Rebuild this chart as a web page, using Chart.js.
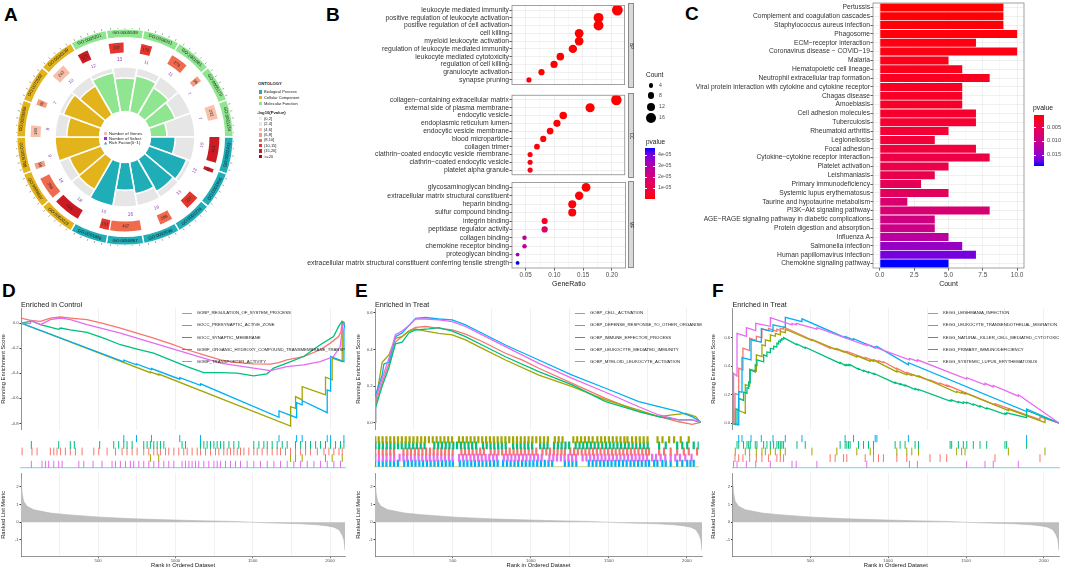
<!DOCTYPE html>
<html><head><meta charset="utf-8">
<script src="https://cdn.jsdelivr.net/npm/chart.js@4.4.1/dist/chart.umd.min.js"></script>
<style>
body{margin:0;width:1065px;height:569px;position:relative;background:#fff;font-family:"Liberation Sans",Arial,Helvetica,sans-serif;overflow:hidden}
canvas{position:absolute}
.t{position:absolute;white-space:nowrap;line-height:1}
.clip{position:absolute;overflow:hidden}
</style></head><body>
<script>
// ---------------- DATA ----------------
// Panel A (GO circle), clockwise from 12 o'clock sector -20deg
const GO_IDS=['GO:0005201','GO:0005539','GO:0008201','GO:1901681','GO:0005178','GO:0061134','GO:0002443','GO:0001906','GO:0002274','GO:0002696','GO:0050867','GO:0001909','GO:0062023','GO:0009897','GO:0005788','GO:0030666','GO:0072562','GO:0030139'];
const GO_ONT=['MF','MF','MF','MF','MF','MF','BP','BP','BP','BP','BP','BP','CC','CC','CC','CC','CC','CC'];
const GO_GENES=[171,237,175,278,96,232,413,60,227,208,497,151,439,358,96,184,96,243];
const GO_SELECT=[12,13,11,11,7,7,19,13,13,16,16,10,18,14,9,8,7,10];
const GO_RICH=[0.89,0.75,0.82,0.70,0.62,0.36,0.55,0.90,0.84,0.72,0.62,1.0,0.79,0.76,1.0,0.73,0.90,0.75];
const GO_LOGP=[17,12,13,9,7,5,17,16,12,9,9,11,18,9,7,5,7,5];
const GENE_SPAN=520;
const P_BIN_LABELS=['(0,2]','(2,4]','(4,6]','(6,8]','(8,10]','(10,15]','(15,20]','>=20'];
const P_BIN_EDGES=[2,4,6,8,10,15,20];

// Panel B (GO dot plot)
const BP_TERMS=['leukocyte mediated immunity','positive regulation of leukocyte activation','positive regulation of cell activation','cell killing','myeloid leukocyte activation','regulation of leukocyte mediated immunity','leukocyte mediated cytotoxicity','regulation of cell killing','granulocyte activation','synapse pruning'];
const BP_RATIO=[0.211,0.178,0.178,0.144,0.144,0.133,0.111,0.100,0.078,0.056];
const BP_COUNT=[19,16,16,13,13,12,10,9,7,5];
const BP_P=[1e-10,2e-09,3e-09,5e-09,6e-09,1e-08,3e-08,5e-08,2e-07,8e-07];
const CC_TERMS=['collagen\u2212containing extracellular matrix','external side of plasma membrane','endocytic vesicle','endoplasmic reticulum lumen','endocytic vesicle membrane','blood microparticle','collagen trimer','clathrin\u2212coated endocytic vesicle membrane','clathrin\u2212coated endocytic vesicle','platelet alpha granule'];
const CC_RATIO=[0.209,0.163,0.116,0.105,0.093,0.081,0.070,0.058,0.058,0.058];
const CC_COUNT=[18,14,10,9,8,7,6,5,5,5];
const CC_P=[5e-10,2e-08,1e-07,3e-07,4e-07,6e-07,9e-07,1.2e-06,1.5e-06,1.8e-06];
const MF_TERMS=['glycosaminoglycan binding','extracellular matrix structural constituent','heparin binding','sulfur compound binding','integrin binding','peptidase regulator activity','collagen binding','chemokine receptor binding','proteoglycan binding','extracellular matrix structural constituent conferring tensile strength'];
const MF_RATIO=[0.155,0.143,0.131,0.131,0.083,0.083,0.048,0.048,0.036,0.036];
const MF_COUNT=[13,12,11,11,7,7,4,4,3,3];
const MF_P=[2e-07,5e-07,8e-07,1e-06,4e-06,1.6e-05,2.7e-05,2.6e-05,3.4e-05,4.68e-05];
const B_XTICKS=[0.05,0.10,0.15,0.20];
const B_XMINOR=[0.075,0.125,0.175];
const COUNT_LEGEND=[4,8,12,16];
const B_PTICKS=[4e-05,3e-05,2e-05,1e-05];

// Panel C (KEGG bar)
const KEGG_TERMS=['Pertussis','Complement and coagulation cascades','Staphylococcus aureus infection','Phagosome','ECM\u2212receptor interaction','Coronavirus disease \u2212 COVID\u221219','Malaria','Hematopoietic cell lineage','Neutrophil extracellular trap formation','Viral protein interaction with cytokine and cytokine receptor','Chagas disease','Amoebiasis','Cell adhesion molecules','Tuberculosis','Rheumatoid arthritis','Legionellosis','Focal adhesion','Cytokine\u2212cytokine receptor interaction','Platelet activation','Leishmaniasis','Primary immunodeficiency','Systemic lupus erythematosus','Taurine and hypotaurine metabolism','PI3K\u2212Akt signaling pathway','AGE\u2212RAGE signaling pathway in diabetic complications','Protein digestion and absorption','Influenza A','Salmonella infection','Human papillomavirus infection','Chemokine signaling pathway'];
const KEGG_COUNT=[9,9,9,10,7,10,5,6,8,6,6,6,7,7,5,4,7,8,5,4,3,5,2,8,4,4,5,6,7,5];
const KEGG_P=[0.00036,0.0005,0.0006,0.0007,0.0009,0.001,0.0012,0.0014,0.0016,0.0018,0.002,0.0021,0.0025,0.0027,0.003,0.0033,0.0035,0.004,0.0045,0.0048,0.0055,0.006,0.0075,0.0078,0.009,0.0095,0.0115,0.0145,0.0165,0.019];
const C_XTICKS=[0,2.5,5,7.5,10];
const C_XMINOR=[1.25,3.75,6.25,8.75];
const C_PTICKS=[0.005,0.010,0.015];

// GSEA shared
const GRID_RANKS=[250,500,750,1000,1250,1500,1750,2000];
const METRIC_RANK=[1,8,18,40,83,191,299,515,730,946,1162,1378,1486,1594,1810,1918,1982,2025,2058,2079,2090,2097];
const METRIC_VAL=[2.45,1.64,1.17,0.89,0.70,0.51,0.42,0.28,0.19,0.13,0.08,0.04,0.0,-0.04,-0.09,-0.15,-0.21,-0.28,-0.43,-0.72,-1.0,-1.6];
const SET_COLORS=['#F8766D','#A3A500','#00BF7D','#00B0F6','#E76BF3'];

// Panel D
const D_SETS=['GOBP_REGULATION_OF_SYSTEM_PROCESS','GOCC_PRESYNAPTIC_ACTIVE_ZONE','GOCC_SYNAPTIC_MEMBRANE','GOMF_ORGANIC_HYDROXY_COMPOUND_TRANSMEMBRANE_TRANSPORTER_ACTIVITY','GOMF_TRANSPORTER_ACTIVITY'];
const D_ES_TICKS=[-0.8,-0.6,-0.4,-0.2,0.0];
const D_RED=[[1,0.04],[62,0.021],[127,0.013],[191,0.04],[256,0.048],[321,0.04],[428,0.027],[536,-0.005],[644,-0.04],[752,-0.08],[859,-0.12],[967,-0.165],[1075,-0.213],[1183,-0.253],[1291,-0.293],[1398,-0.315],[1506,-0.325],[1614,-0.328],[1668,-0.315],[1721,-0.293],[1829,-0.267],[1937,-0.213],[2002,-0.16],[2056,-0.107],[2071,-0.067],[2079,0],[2088,-0.013],[2097,0]];
const D_OLIVE=[[1,0],[838,-0.396],[838,-0.389],[892,-0.414],[892,-0.407],[1745,-0.821],[1745,-0.667],[1777,-0.68],[1777,-0.587],[1820,-0.613],[1820,-0.507],[1971,-0.573],[1971,-0.432],[2014,-0.453],[2014,-0.28],[2079,-0.307],[2079,0.013],[2097,0]];
const D_GREEN=[[1,0],[62,0.013],[68,0.018],[127,-0.013],[213,-0.04],[245,-0.05],[256,-0.04],[320,-0.055],[428,-0.075],[536,-0.12],[644,-0.173],[752,-0.208],[859,-0.24],[967,-0.293],[1075,-0.347],[1183,-0.395],[1291,-0.395],[1398,-0.4],[1506,-0.421],[1592,-0.405],[1635,-0.36],[1721,-0.32],[1829,-0.267],[1937,-0.173],[2023,-0.107],[2056,-0.027],[2077,0.013],[2088,0],[2097,0]];
const D_BLUE=[[1,0],[666,-0.309],[666,-0.296],[748,-0.334],[748,-0.326],[845,-0.371],[845,-0.363],[1028,-0.448],[1028,-0.435],[1162,-0.497],[1162,-0.485],[1670,-0.752],[1670,-0.701],[1784,-0.755],[1784,-0.635],[1820,-0.652],[1820,-0.62],[1982,-0.715],[1982,-0.533],[2004,-0.543],[2004,-0.267],[2090,-0.307],[2090,-0.05],[2097,0]];
const D_PINK=[[1,0],[62,-0.005],[68,0.021],[127,-0.013],[191,0.027],[256,0.04],[321,0.027],[428,-0.013],[644,-0.08],[859,-0.16],[1075,-0.24],[1291,-0.32],[1506,-0.36],[1614,-0.379],[1721,-0.347],[1829,-0.333],[1937,-0.307],[2023,-0.267],[2066,-0.187],[2083,-0.013],[2097,0]];
const D_HIT_RED=[8,72,105,191,213,234,256,288,320,353,396,472,504,558,612,655,687,720,752,795,828,860,882,903,936,957,990,1022,1054,1076,1108,1141,1162,1195,1227,1259,1281,1313,1335,1356,1378,1400,1421,1443,1475,1507,1529,1561,1594,1626,1658,1680,1712,1745,1777,1810,1842,1874,1918,1961,1993,2025,2058,2079];
const D_HIT_OLIVE=[838,892,1745,1777,1820,1971,2014,2079];
const D_HIT_GREEN=[68,245,320,346,510,601,633,666,687,720,795,817,838,860,882,903,925,1043,1065,1162,1184,1205,1227,1249,1270,1292,1313,1346,1378,1410,1507,1540,1572,1594,1626,1658,1691,1723,1777,1810,1842,1874,1907,1939,1971,2004,2036,2068,2090];
const D_HIT_BLUE=[666,748,845,1028,1162,1670,1784,1820,1982,2004,2090];
const D_HIT_PINK=[68,137,159,180,213,245,267,375,407,467,525,590,612,644,677,709,730,763,795,828,860,892,925,957,990,1043,1065,1087,1108,1130,1151,1184,1216,1249,1270,1292,1324,1356,1389,1421,1464,1507,1550,1594,1637,1680,1723,1766,1810,1853,1896,1939,1982,2025,2068];

// Panel E
const E_SETS=['GOBP_CELL_ACTIVATION','GOBP_DEFENSE_RESPONSE_TO_OTHER_ORGANISM','GOBP_IMMUNE_EFFECTOR_PROCESS','GOBP_LEUKOCYTE_MEDIATED_IMMUNITY','GOBP_MYELOID_LEUKOCYTE_ACTIVATION'];
const E_ES_TICKS=[0.0,0.2,0.4,0.6];
const E_RED=[[1,0],[4,0.1],[47,0.22],[90,0.32],[132,0.44],[175,0.47],[218,0.5],[261,0.52],[325,0.525],[410,0.515],[496,0.506],[581,0.483],[688,0.443],[837,0.379],[950,0.34],[1051,0.297],[1265,0.215],[1479,0.133],[1692,0.06],[1820,0.033],[1949,0.005],[2034,-0.009],[2088,0.002]];
const E_OLIVE=[[1,0],[4,0.11],[47,0.33],[90,0.37],[132,0.46],[175,0.47],[218,0.5],[261,0.512],[325,0.5],[410,0.488],[496,0.479],[581,0.452],[688,0.406],[837,0.342],[1051,0.26],[1265,0.197],[1479,0.124],[1692,0.069],[1820,0.033],[1906,0.042],[1992,0.051],[2056,0.033],[2088,0.002]];
const E_GREEN=[[1,0],[4,0.08],[47,0.2],[90,0.3],[132,0.43],[175,0.44],[218,0.49],[261,0.506],[346,0.512],[410,0.519],[496,0.5],[581,0.47],[688,0.424],[837,0.36],[1051,0.279],[1265,0.206],[1479,0.115],[1692,0.06],[1820,0.033],[1949,0.015],[2034,0.015],[2088,0.002]];
const E_BLUE=[[1,0],[4,0.15],[47,0.26],[58,0.32],[90,0.33],[132,0.47],[175,0.49],[218,0.53],[261,0.57],[325,0.574],[410,0.566],[496,0.561],[581,0.534],[688,0.488],[837,0.424],[1051,0.342],[1265,0.26],[1479,0.188],[1692,0.115],[1820,0.087],[1949,0.06],[2034,0.033],[2088,0.005]];
const E_PINK=[[1,0],[4,0.13],[47,0.24],[90,0.35],[132,0.48],[175,0.5],[218,0.53],[261,0.566],[325,0.566],[410,0.561],[496,0.552],[581,0.525],[688,0.479],[837,0.415],[1051,0.324],[1265,0.242],[1479,0.166],[1692,0.087],[1820,0.042],[1949,0.015],[2034,0.015],[2088,0.005]];
const E_HIT_OLIVE=[3,25,50,75,100,125,150,175,200,225,250,275,300,325,350,375,400,425,450,475,500,545,570,595,620,645,670,695,720,745,770,795,820,845,870,895,920,945,970,995,1020,1045,1070,1095,1120,1165,1190,1215,1285,1310,1335,1360,1385,1410,1440,1465,1490,1515,1540,1565,1590,1615,1635,1665,1690,1715,1740,1765,1830,1862,1905,1937,1980,2032];
const E_HIT_GREEN=[4,28,52,77,101,126,150,174,199,223,248,272,297,322,385,410,434,459,483,508,532,557,581,606,630,655,700,724,749,773,798,822,847,895,920,944,969,993,1018,1070,1094,1118,1160,1185,1209,1234,1258,1300,1325,1349,1374,1398,1423,1447,1472,1496,1521,1545,1570,1594,1619,1643,1668,1692,1717,1741,1766,1840,1883,1957,1990,2022,2064,2096];
const E_HIT_RED=[2,26,51,75,100,124,185,210,234,259,283,308,332,357,381,406,430,455,479,504,560,584,609,633,658,682,706,750,775,800,824,849,873,898,922,947,971,996,1020,1045,1085,1110,1134,1159,1183,1208,1230,1265,1290,1314,1339,1363,1388,1412,1437,1461,1486,1510,1535,1559,1584,1608,1633,1657,1682,1706,1731,1755,1775,1840,1872,1915,1957,2000,2032,2086];
const E_HIT_PINK=[3,27,52,76,101,125,160,185,209,234,258,283,307,332,356,381,405,430,454,479,503,545,570,594,619,643,668,692,717,741,766,790,835,860,884,909,933,958,982,1007,1031,1056,1080,1130,1155,1179,1204,1228,1253,1277,1302,1345,1370,1394,1419,1443,1468,1492,1517,1541,1566,1590,1615,1639,1664,1688,1713,1737,1762,1795,1820,1850,1880,1915,1945,1975,2010,2050];
const E_HIT_BLUE=[2,26,51,75,100,124,149,190,214,239,263,288,312,337,361,386,410,435,459,484,505,550,575,599,624,648,673,697,722,746,771,795,830,855,879,904,928,953,977,1002,1026,1051,1075,1100,1124,1148,1230,1255,1279,1304,1385,1410,1434,1459,1483,1508,1532,1557,1581,1606,1630,1655,1679,1704,1728,1753,1775,1808,1829,1861,1883,1915,1957,1990,2022,2043,2064];

// Panel F
const F_SETS=['KEGG_LEISHMANIA_INFECTION','KEGG_LEUKOCYTE_TRANSENDOTHELIAL_MIGRATION','KEGG_NATURAL_KILLER_CELL_MEDIATED_CYTOTOXICITY','KEGG_PRIMARY_IMMUNODEFICIENCY','KEGG_SYSTEMIC_LUPUS_ERYTHEMATOSUS'];
const F_ES_TICKS=[0.0,0.2,0.4,0.6];
const F_RED=[[1,0],[17,-0.005],[17,0.21],[41,0.2],[41,0.386],[68,0.375],[68,0.526],[111,0.51],[111,0.596],[154,0.58],[154,0.61],[190,0.6],[190,0.662],[233,0.65],[233,0.665],[286,0.645],[286,0.66],[308,0.652],[308,0.666],[329,0.66],[329,0.675],[628,0.526],[628,0.532],[660,0.518],[660,0.524],[714,0.5],[714,0.506],[735,0.498],[735,0.504],[853,0.455],[853,0.461],[906,0.44],[906,0.446],[938,0.432],[938,0.438],[970,0.425],[970,0.431],[1056,0.38],[1056,0.386],[1120,0.35],[1120,0.356],[1269,0.298],[1269,0.304],[1334,0.275],[1334,0.281],[1376,0.262],[1376,0.268],[1686,0.13],[1686,0.138],[1975,0.025],[1975,0.045],[2100,0]];
const F_OLIVE=[[1,0],[19,-0.01],[19,0.1],[83,0.07],[83,0.27],[111,0.26],[111,0.38],[154,0.365],[154,0.48],[190,0.468],[190,0.55],[212,0.542],[212,0.585],[244,0.575],[244,0.62],[276,0.61],[276,0.63],[308,0.62],[308,0.645],[340,0.635],[340,0.66],[511,0.58],[511,0.588],[671,0.515],[671,0.523],[799,0.465],[799,0.473],[885,0.435],[885,0.443],[906,0.435],[906,0.443],[1056,0.36],[1056,0.368],[1120,0.34],[1120,0.348],[1152,0.335],[1152,0.343],[1195,0.325],[1195,0.333],[1440,0.215],[1440,0.223],[1472,0.21],[1472,0.218],[1494,0.205],[1494,0.213],[1772,0.09],[1772,0.1],[2007,0.005],[2007,0.04],[2100,0]];
const F_GREEN=[[1,0],[30,-0.01],[30,0.1],[41,0.095],[41,0.175],[72,0.16],[72,0.218],[94,0.21],[94,0.25],[105,0.245],[105,0.29],[115,0.285],[115,0.374],[147,0.36],[147,0.41],[158,0.405],[158,0.444],[201,0.43],[201,0.48],[222,0.47],[222,0.5],[244,0.495],[244,0.526],[265,0.52],[265,0.54],[286,0.535],[286,0.561],[297,0.556],[297,0.575],[308,0.57],[308,0.585],[318,0.58],[318,0.593],[329,0.59],[329,0.6],[415,0.55],[415,0.556],[468,0.527],[468,0.533],[692,0.42],[692,0.426],[724,0.405],[724,0.411],[735,0.405],[735,0.411],[746,0.405],[746,0.411],[756,0.405],[756,0.411],[810,0.378],[810,0.384],[842,0.365],[842,0.371],[874,0.355],[874,0.361],[906,0.345],[906,0.351],[1045,0.281],[1045,0.287],[1077,0.272],[1077,0.278],[1109,0.262],[1109,0.268],[1173,0.237],[1173,0.243],[1195,0.232],[1195,0.238],[1398,0.155],[1398,0.162],[1408,0.157],[1408,0.164],[1451,0.145],[1451,0.152],[1483,0.14],[1483,0.15],[1505,0.14],[1505,0.148],[1547,0.128],[1547,0.136],[1590,0.115],[1590,0.123],[1633,0.1],[1633,0.108],[1750,0.062],[1750,0.07],[1761,0.065],[1761,0.073],[1889,0.04],[1889,0.09],[2100,0]];
const F_BLUE=[[1,0],[41,-0.012],[41,0.222],[62,0.218],[62,0.461],[120,0.444],[120,0.585],[186,0.568],[186,0.662],[261,0.643],[261,0.69],[340,0.671],[340,0.742],[447,0.713],[447,0.732],[724,0.6],[724,0.608],[778,0.585],[778,0.593],[917,0.528],[917,0.536],[928,0.531],[928,0.539],[1130,0.41],[1130,0.425],[1889,0.082],[1889,0.1],[2100,0]];
const F_PINK=[[1,0],[8,0],[8,0.35],[30,0.33],[30,0.63],[90,0.61],[90,0.67],[150,0.65],[150,0.70],[244,0.68],[244,0.74],[383,0.69],[383,0.70],[410,0.69],[410,0.70],[543,0.66],[543,0.67],[863,0.545],[863,0.555],[1137,0.445],[1137,0.455],[1188,0.435],[1188,0.445],[1504,0.31],[1504,0.32],[1622,0.27],[1622,0.28],[1675,0.255],[1675,0.265],[1836,0.19],[1836,0.2],[2100,0]];
const F_HIT_RED=[17,41,68,111,154,190,233,286,308,329,628,660,714,735,853,906,938,970,1056,1120,1269,1334,1376,1686,1975];
const F_HIT_OLIVE=[19,83,111,154,190,212,244,276,308,340,511,671,799,885,906,1056,1120,1152,1195,1440,1472,1494,1772,2007];
const F_HIT_GREEN=[30,41,72,94,105,115,147,158,201,222,244,265,286,297,308,318,329,415,468,692,724,735,746,756,810,842,874,906,1045,1077,1109,1173,1195,1398,1408,1451,1483,1505,1547,1590,1633,1750,1761,1889];
const F_HIT_BLUE=[41,62,120,186,261,340,447,724,778,917,928,1130,1889];
const F_HIT_PINK=[8,30,90,150,244,383,410,543,863,1137,1188,1504,1622,1675,1836];

// ---------------- HELPERS ----------------
Chart.defaults.font.family='"Liberation Sans", Arial, Helvetica, sans-serif';
Chart.defaults.color='#4D4D4D';
Chart.defaults.animation=false;
Chart.defaults.events=[];
Chart.defaults.plugins.legend.display=false;
Chart.defaults.plugins.tooltip.enabled=false;

const framePlugin={id:'frame',defaults:{color:null,width:0.8},afterDraw(chart,args,opts){
  if(!opts.color) return; const a=chart.chartArea,c=chart.ctx; c.save(); c.strokeStyle=opts.color; c.lineWidth=opts.width;
  c.strokeRect(a.left,a.top,a.right-a.left,a.bottom-a.top); c.restore(); }};
Chart.register(framePlugin);

function cv(left,top,w,h){const c=document.createElement('canvas');c.width=w;c.height=h;c.style.left=left+'px';c.style.top=top+'px';c.style.width=w+'px';c.style.height=h+'px';document.body.appendChild(c);return c;}
function tx(text,x,cy,size,o={}){const d=document.createElement('div');d.className='t';d.textContent=text;
  d.style.left=x+'px';d.style.top=cy+'px';d.style.fontSize=size+'px';d.style.color=o.color||'#1A1A1A';
  if(o.bold)d.style.fontWeight='bold';
  let tr='translateY(-50%)'; if(o.align==='right')tr='translate(-100%,-50%)'; if(o.align==='center')tr='translate(-50%,-50%)';
  if(o.rot)tr+=' rotate('+o.rot+'deg)'; d.style.transform=tr; (o.parent||document.body).appendChild(d); return d;}
function box(x,y,w,h,style,parent){const d=document.createElement('div');d.style.position='absolute';d.style.left=x+'px';d.style.top=y+'px';d.style.width=w+'px';d.style.height=h+'px';Object.assign(d.style,style||{});(parent||document.body).appendChild(d);return d;}

// Lab interpolation red -> blue (like ggplot gradient)
function lin(c){c/=255;return c<=0.04045?c/12.92:Math.pow((c+0.055)/1.055,2.4);}
function toLab(r,g,b){const R=lin(r),G=lin(g),B=lin(b);
  const X=(0.4124564*R+0.3575761*G+0.1804375*B)/0.95047,Y=(0.2126729*R+0.7151522*G+0.0721750*B),Z=(0.0193339*R+0.1191920*G+0.9503041*B)/1.08883;
  const f=t=>t>0.008856?Math.cbrt(t):7.787*t+16/116; const fx=f(X),fy=f(Y),fz=f(Z); return [116*fy-16,500*(fx-fy),200*(fy-fz)];}
function fromLab(L,a,b){const fy=(L+16)/116,fx=fy+a/500,fz=fy-b/200;const fi=t=>t*t*t>0.008856?t*t*t:(t-16/116)/7.787;
  const X=0.95047*fi(fx),Y=fi(fy),Z=1.08883*fi(fz);
  let R=3.2404542*X-1.5371385*Y-0.4985314*Z,G=-0.9692660*X+1.8760108*Y+0.0415560*Z,B=0.0556434*X-0.2040259*Y+1.0572252*Z;
  const g=c=>{c=c<=0.0031308?12.92*c:1.055*Math.pow(c,1/2.4)-0.055;return Math.round(Math.min(1,Math.max(0,c))*255);};
  return 'rgb('+g(R)+','+g(G)+','+g(B)+')';}
const LAB_R=toLab(255,0,0),LAB_B=toLab(0,0,255);
function grad(t){t=Math.min(1,Math.max(0,t));return fromLab(LAB_R[0]+(LAB_B[0]-LAB_R[0])*t,LAB_R[1]+(LAB_B[1]-LAB_R[1])*t,LAB_R[2]+(LAB_B[2]-LAB_R[2])*t);}

const ONT_COLOR={BP:'#1FADB8',CC:'#E3B31C',MF:'#90E690'};
const BIN_COLORS=['#EFEFEF','#F6E2DC','#F9BFA9','#F69C80','#F06A4E','#E4362D','#CC1B23','#9E0B16'];
function binOf(v){let i=0;while(i<P_BIN_EDGES.length&&v>P_BIN_EDGES[i])i++;return i;}

// ---------------- PANEL LETTERS ----------------
tx('A',4,13.5,19,{bold:true,color:'#000'});
tx('B',326,13.5,19,{bold:true,color:'#000'});
tx('C',685,12.5,19,{bold:true,color:'#000'});
tx('D',2,290,19,{bold:true,color:'#000'});
tx('E',355,290,19,{bold:true,color:'#000'});
tx('F',712,290,19,{bold:true,color:'#000'});

// ---------------- PANEL A ----------------
const holePlugin={id:'hole',afterDatasetsDraw(chart){const s=chart.scales.r,c=chart.ctx;const r=s.getDistanceFromCenterForValue(0);
  c.save();c.fillStyle='#fff';c.beginPath();c.arc(s.xCenter,s.yCenter,r,0,Math.PI*2);c.fill();c.restore();}};
new Chart(cv(55,67,140,140),{type:'polarArea',
  data:{labels:GO_IDS,datasets:[
    {data:GO_RICH,backgroundColor:GO_ONT.map(o=>ONT_COLOR[o]),borderColor:'#fff',borderWidth:1.6},
    {data:GO_IDS.map(()=>1),backgroundColor:'#E6E6E6',borderColor:'#fff',borderWidth:1.6}]},
  options:{responsive:false,layout:{padding:0},scales:{r:{display:false,min:-0.6,max:1,startAngle:-30}}},
  plugins:[holePlugin]});

function tangText(c,str,x,y,mid,font,color){c.save();c.translate(x,y);let rot=mid+Math.PI/2;if(Math.sin(mid)>0.05)rot+=Math.PI;
  c.rotate(rot);c.font=font;c.fillStyle=color;c.textAlign='center';c.textBaseline='middle';c.fillText(str,0,0);c.restore();}
const ringLabelPlugin={id:'ringLabels',afterDatasetsDraw(chart){const c=chart.ctx;const fam='"Liberation Sans", Arial, sans-serif';
  chart.getDatasetMeta(0).data.forEach((arc,i)=>{const p=arc.getProps(['x','y','startAngle','endAngle','innerRadius','outerRadius'],true);
    const mid=(p.startAngle+p.endAngle)/2,r=(p.innerRadius+p.outerRadius)/2;
    tangText(c,GO_IDS[i],p.x+Math.cos(mid)*r,p.y+Math.sin(mid)*r,mid,'4.4px '+fam,'#1A1A1A');
    // outer tick marks along ontology ring
    c.save();c.strokeStyle='#555';c.lineWidth=0.5;
    for(let k=0;k<5;k++){const a=p.startAngle+(p.endAngle-p.startAngle)*(0.12+0.19*k);
      c.beginPath();c.moveTo(p.x+Math.cos(a)*p.outerRadius,p.y+Math.sin(a)*p.outerRadius);c.lineTo(p.x+Math.cos(a)*(p.outerRadius+2.2),p.y+Math.sin(a)*(p.outerRadius+2.2));c.stroke();}
    c.restore();
    const r2=chart.getDatasetMeta(2).data[0].getProps(['innerRadius'],true).innerRadius-7;
    tangText(c,String(GO_SELECT[i]),p.x+Math.cos(mid-0.07)*r2,p.y+Math.sin(mid-0.07)*r2,mid,'4.6px '+fam,'#8B3FB0');
  });
  chart.getDatasetMeta(2).data.forEach((arc,j)=>{if(j%2)return;const p=arc.getProps(['x','y','startAngle','endAngle','innerRadius','outerRadius'],true);
    const mid=(p.startAngle+p.endAngle)/2,r=(p.innerRadius+p.outerRadius)/2;
    tangText(c,String(GO_GENES[j/2]),p.x+Math.cos(mid)*r,p.y+Math.sin(mid)*r,mid,'4.2px '+fam,'#2A2A2A');});
}};
const ringData=[],ringColors=[];
GO_GENES.forEach((g,i)=>{ringData.push(g,GENE_SPAN-g);ringColors.push(BIN_COLORS[binOf(GO_LOGP[i])],'rgba(0,0,0,0)');});
new Chart(cv(16,28,218,218),{type:'doughnut',
  data:{datasets:[
    {data:GO_IDS.map(()=>1),backgroundColor:GO_ONT.map(o=>ONT_COLOR[o]),borderColor:'#fff',borderWidth:1.4,weight:9},
    {data:[1],backgroundColor:'rgba(0,0,0,0)',borderWidth:0,weight:5},
    {data:ringData,backgroundColor:ringColors,borderWidth:0,weight:10}]},
  options:{responsive:false,cutout:'78%',rotation:-30,layout:{padding:0}},
  plugins:[ringLabelPlugin]});
// center legend
box(104,132.2,3,3,{background:'#F7B7C4'});tx('Number of Genes',109,133.8,4.2);
box(104,136.9,3,3,{background:'#9B30D0'});tx('Number of Select',109,138.5,4.2);
box(104,141.6,3.2,3,{background:'#1FADB8',clipPath:'polygon(50% 0,100% 100%,0 100%)'});tx('Rich Factor(0~1)',109,143.2,4.2);
// right legend
tx('ONTOLOGY',258,84,4.2,{bold:true});
['BP','CC','MF'].forEach((o,i)=>{box(258.5,90.3+i*5.8,3.4,3.4,{background:ONT_COLOR[o]});tx({BP:'Biological Process',CC:'Cellular Component',MF:'Molecular Function'}[o],264,92+i*5.8,4);});
tx('-log10(Pvalue)',257,113,4.2,{bold:true});
P_BIN_LABELS.forEach((l,i)=>{box(258.5,117+i*5.4,3.4,3.4,{background:BIN_COLORS[i]});tx(l,264,118.7+i*5.4,4);});

// ---------------- PANEL B ----------------
const ALLBP=BP_P.concat(CC_P,MF_P);const BMIN=Math.min(...ALLBP),BMAX=Math.max(...ALLBP);
const colB=p=>grad((p-BMIN)/(BMAX-BMIN));
const ALLC=BP_COUNT.concat(CC_COUNT,MF_COUNT);const CMN=Math.min(...ALLC),CMX=Math.max(...ALLC);
const sizeOf=c=>1.9+3.5*(Math.sqrt(c)-Math.sqrt(CMN))/(Math.sqrt(CMX)-Math.sqrt(CMN));
const isMajorB=v=>B_XTICKS.some(t=>Math.abs(t-v)<1e-9);
function dotFacet(top,h,terms,ratio,count,p,showX,strip){
  new Chart(cv(290,top,340,h),{type:'scatter',
    data:{datasets:[{data:terms.map((t,i)=>({x:ratio[i],y:i+1})),pointRadius:count.map(sizeOf),pointBackgroundColor:p.map(colB),pointBorderWidth:0}]},
    options:{responsive:false,layout:{padding:{top:3,right:3,left:0,bottom:0}},
      scales:{
        x:{type:'linear',min:0.0263,max:0.2237,afterBuildTicks:s=>{s.ticks=B_XTICKS.concat(B_XMINOR).sort((a,b)=>a-b).map(v=>({value:v}));},
          ticks:{display:showX,autoSkip:false,maxRotation:0,padding:0.5,font:{size:6.3},color:'#4D4D4D',callback:v=>isMajorB(v)?v.toFixed(2):''},
          grid:{color:c=>isMajorB(c.tick.value)?'#EBEBEB':'#F6F6F6',lineWidth:0.8,drawTicks:showX,tickLength:2.5,tickColor:c=>isMajorB(c.tick.value)?'#333':'rgba(0,0,0,0)'},
          border:{display:false},title:{display:showX,text:'GeneRatio',font:{size:7},color:'#1A1A1A',padding:0},
          afterFit:s=>{s.height=showX?20:2;s.paddingLeft=0;s.paddingRight=0;}},
        y:{type:'linear',reverse:true,min:0.4,max:10.6,afterBuildTicks:s=>{s.ticks=terms.map((t,i)=>({value:i+1}));},
          ticks:{autoSkip:false,padding:0.5,font:{size:6.8},color:'#333',callback:v=>terms[Math.round(v)-1]},
          grid:{color:'#EBEBEB',lineWidth:0.8,tickLength:2.5,tickColor:'#333'},border:{display:false},
          afterFit:s=>{s.width=222;s.paddingTop=0;s.paddingBottom=0;}}},
      plugins:{frame:{color:'#8A8A8A',width:0.8}}}});
  const aTop=top+3,aH=(showX?h-20:h-2)-3;
  box(627.5,aTop,6.5,aH,{background:'#D9D9D9',border:'0.6px solid #8A8A8A',boxSizing:'border-box'});
  tx(strip,630.8,aTop+aH/2,4.5,{align:'center',rot:90});
}
dotFacet(0,90,BP_TERMS,BP_RATIO,BP_COUNT,BP_P,false,'BP');
dotFacet(90,90,CC_TERMS,CC_RATIO,CC_COUNT,CC_P,false,'CC');
dotFacet(178,110,MF_TERMS,MF_RATIO,MF_COUNT,MF_P,true,'MF');
// B legend
tx('Count',646,75,6.5);
const cly=[85.7,95.7,107.3,118.3];
COUNT_LEGEND.forEach((c,i)=>{const r=sizeOf(c);box(651-r,cly[i]-r,2*r,2*r,{background:'#000',borderRadius:'50%'});tx(String(c),659,cly[i],5.2,{color:'#4D4D4D'});});
tx('pvalue',646,141.7,6.5);
(function(){const stops=[];for(let k=0;k<=10;k++)stops.push(grad(1-k/10)+' '+(k*10)+'%');
  box(645,148,10,51,{background:'linear-gradient(to bottom,'+stops.join(',')+')'});
  B_PTICKS.forEach(v=>{const y=199-(v-BMIN)/(BMAX-BMIN)*51;box(645,y-0.3,2,0.6,{background:'#fff'});box(653,y-0.3,2,0.6,{background:'#fff'});
    tx(v.toExponential(0).replace('e-5','e-05'),658,y,5.2,{color:'#4D4D4D'});});})();

// ---------------- PANEL C ----------------
const KMIN=Math.min(...KEGG_P),KMAX=Math.max(...KEGG_P);
const colC=p=>grad((p-KMIN)/(KMAX-KMIN));
const isMajorC=v=>C_XTICKS.some(t=>Math.abs(t-v)<1e-9);
new Chart(cv(660,0,370,288),{type:'bar',
  data:{labels:KEGG_TERMS,datasets:[{data:KEGG_COUNT,backgroundColor:KEGG_P.map(colC),barPercentage:0.9,categoryPercentage:1,borderWidth:0}]},
  options:{indexAxis:'y',responsive:false,layout:{padding:{top:3,right:6,left:0,bottom:0}},
    scales:{
      x:{type:'linear',min:-0.5,max:10.5,afterBuildTicks:s=>{s.ticks=C_XTICKS.concat(C_XMINOR).sort((a,b)=>a-b).map(v=>({value:v}));},
        ticks:{autoSkip:false,maxRotation:0,padding:0.5,font:{size:6.5},color:'#4D4D4D',callback:v=>isMajorC(v)?v.toFixed(1):''},
        grid:{color:c=>isMajorC(c.tick.value)?'#EBEBEB':'#F6F6F6',lineWidth:0.8,tickLength:2.5,tickColor:c=>isMajorC(c.tick.value)?'#333':'rgba(0,0,0,0)'},
        border:{display:false},title:{display:true,text:'Count',font:{size:7},color:'#1A1A1A',padding:0},
        afterFit:s=>{s.height=20;s.paddingLeft=0;s.paddingRight=0;}},
      y:{ticks:{autoSkip:false,padding:0.5,font:{size:6.7},color:'#333'},grid:{color:'#EBEBEB',offset:false,lineWidth:0.8,tickLength:2.5,tickColor:'#333'},
        border:{display:false},afterFit:s=>{s.width=213;s.paddingTop=0;s.paddingBottom=0;}}},
    plugins:{frame:{color:'#8A8A8A',width:0.8}}}});
tx('pvalue',1033,108,6.8);
(function(){const stops=[];for(let k=0;k<=10;k++)stops.push(grad(k/10)+' '+(k*10)+'%');
  box(1034,115,10,51,{background:'linear-gradient(to bottom,'+stops.join(',')+')'});
  C_PTICKS.forEach(v=>{const y=115+(v-KMIN)/(KMAX-KMIN)*51;box(1034,y-0.3,2,0.6,{background:'#fff'});box(1042,y-0.3,2,0.6,{background:'#fff'});
    tx(v.toFixed(3),1047,y,5.6,{color:'#4D4D4D'});});})();

// ---------------- GSEA PANELS ----------------
function gsea(o){
  const L=o.left,W=o.width;
  new Chart(cv(L,300,W,130),{type:'line',
    data:{datasets:o.curves.map((c,i)=>({data:c.map(p=>({x:p[0],y:p[1]})),borderColor:SET_COLORS[i],borderWidth:1.3,pointRadius:0,tension:0,fill:false,order:5-i}))},
    options:{responsive:false,layout:{padding:{left:0,right:o.padR,top:8,bottom:0}},
      scales:{
        x:{type:'linear',min:1,max:2097,afterBuildTicks:s=>{s.ticks=GRID_RANKS.map(v=>({value:v}));},ticks:{display:false},
          grid:{color:'#EBEBEB',lineWidth:0.7,drawTicks:false},border:{display:false},afterFit:s=>{s.height=0;s.paddingLeft=0;s.paddingRight=0;}},
        y:{min:o.esMin,max:o.esMax,afterBuildTicks:s=>{s.ticks=o.esTicks.map(v=>({value:v}));},
          ticks:{font:{size:4.3},color:'#4D4D4D',padding:0.8,callback:v=>v.toFixed(1)},
          grid:{drawOnChartArea:false,tickLength:1.5,tickColor:'#333'},border:{color:'#666',width:0.7},
          title:{display:true,text:'Running Enrichment Score',font:{size:5.8},color:'#1A1A1A',padding:0},
          afterFit:s=>{s.width=o.yW;s.paddingTop=0;s.paddingBottom=0;}}}}});
  new Chart(cv(L,430,W,43),{type:'scatter',
    data:{datasets:o.rows.map((idx,r)=>({data:o.hits[idx].map(h=>({x:h,y:4.5-r})),pointStyle:'line',pointRotation:90,pointRadius:3.9,
      pointBorderColor:SET_COLORS[idx],pointBorderWidth:o.rugW}))},
    options:{responsive:false,layout:{padding:{left:o.yW,right:o.padR,top:1,bottom:0}},
      scales:{x:{type:'linear',min:1,max:2097,ticks:{display:false},grid:{display:false},border:{color:o.base,width:1.2},afterFit:s=>{s.height=0;s.paddingLeft=0;s.paddingRight=0;}},
        y:{display:false,min:0,max:5}}}});
  new Chart(cv(L,473,W,96),{type:'line',
    data:{datasets:[{data:METRIC_RANK.map((x,i)=>({x,y:METRIC_VAL[i]})),borderColor:'#B5B5B5',borderWidth:0.6,backgroundColor:'#BEBEBE',fill:'origin',pointRadius:0,tension:0}]},
    options:{responsive:false,layout:{padding:{left:0,right:o.padR,top:0,bottom:0}},
      scales:{
        x:{type:'linear',min:1,max:2097,afterBuildTicks:s=>{s.ticks=GRID_RANKS.map(v=>({value:v}));},
          ticks:{autoSkip:false,maxRotation:0,font:{size:4.3},color:'#4D4D4D',padding:0.5,callback:v=>v%500===0?String(v):''},
          grid:{color:'#EBEBEB',lineWidth:0.7,tickLength:1.5,tickColor:c=>c.tick.value%500===0?'#333':'rgba(0,0,0,0)'},
          border:{color:'#666',width:0.7},title:{display:true,text:'Rank in Ordered Dataset',font:{size:5.8},color:'#1A1A1A',padding:0},
          afterFit:s=>{s.height=12.3;s.paddingLeft=0;s.paddingRight=0;}},
        y:{min:-1.94,max:2.76,afterBuildTicks:s=>{s.ticks=[-1,0,1,2].map(v=>({value:v}));},
          ticks:{font:{size:4.3},color:'#4D4D4D',padding:0.8},grid:{drawOnChartArea:false,tickLength:1.5,tickColor:'#333'},
          border:{color:'#666',width:0.7},title:{display:true,text:'Ranked List Metric',font:{size:5.8},color:'#1A1A1A',padding:0},
          afterFit:s=>{s.width=o.yW;s.paddingTop=0;s.paddingBottom=0;}}}}});
  tx(o.title,L+o.yW,305,7.2);
  const clip=box(L,300,W-o.padR,130,{overflow:'hidden'});
  o.sets.forEach((s,i)=>{const y=313.3+i*12.1-300;box(o.legX-L,y-0.8,10,1.6,{background:SET_COLORS[i]},clip);tx(s,o.legX-L+15,y,4.3,{parent:clip});});
}
gsea({left:0,width:355,yW:21,padR:10,esMin:-0.853,esMax:0.12,esTicks:D_ES_TICKS,title:'Enriched in Control',
  curves:[D_RED,D_OLIVE,D_GREEN,D_BLUE,D_PINK],hits:[D_HIT_RED,D_HIT_OLIVE,D_HIT_GREEN,D_HIT_BLUE,D_HIT_PINK],rows:[3,2,0,1,4],rugW:1,base:'#8BDDF4',sets:D_SETS,legX:181.7});
gsea({left:355,width:350,yW:20,padR:3,esMin:-0.04,esMax:0.626,esTicks:E_ES_TICKS,title:'Enriched in Treat',
  curves:[E_RED,E_OLIVE,E_GREEN,E_BLUE,E_PINK],hits:[E_HIT_RED,E_HIT_OLIVE,E_HIT_GREEN,E_HIT_BLUE,E_HIT_PINK],rows:[1,2,0,4,3],rugW:2.2,base:'#D5DE9E',sets:E_SETS,legX:575});
gsea({left:710,width:355,yW:22.5,padR:6,esMin:-0.047,esMax:0.808,esTicks:F_ES_TICKS,title:'Enriched in Treat',
  curves:[F_RED,F_OLIVE,F_GREEN,F_BLUE,F_PINK],hits:[F_HIT_RED,F_HIT_OLIVE,F_HIT_GREEN,F_HIT_BLUE,F_HIT_PINK],rows:[3,2,1,0,4],rugW:1,base:'#8BDDF4',sets:F_SETS,legX:928});
</script>
</body></html>
